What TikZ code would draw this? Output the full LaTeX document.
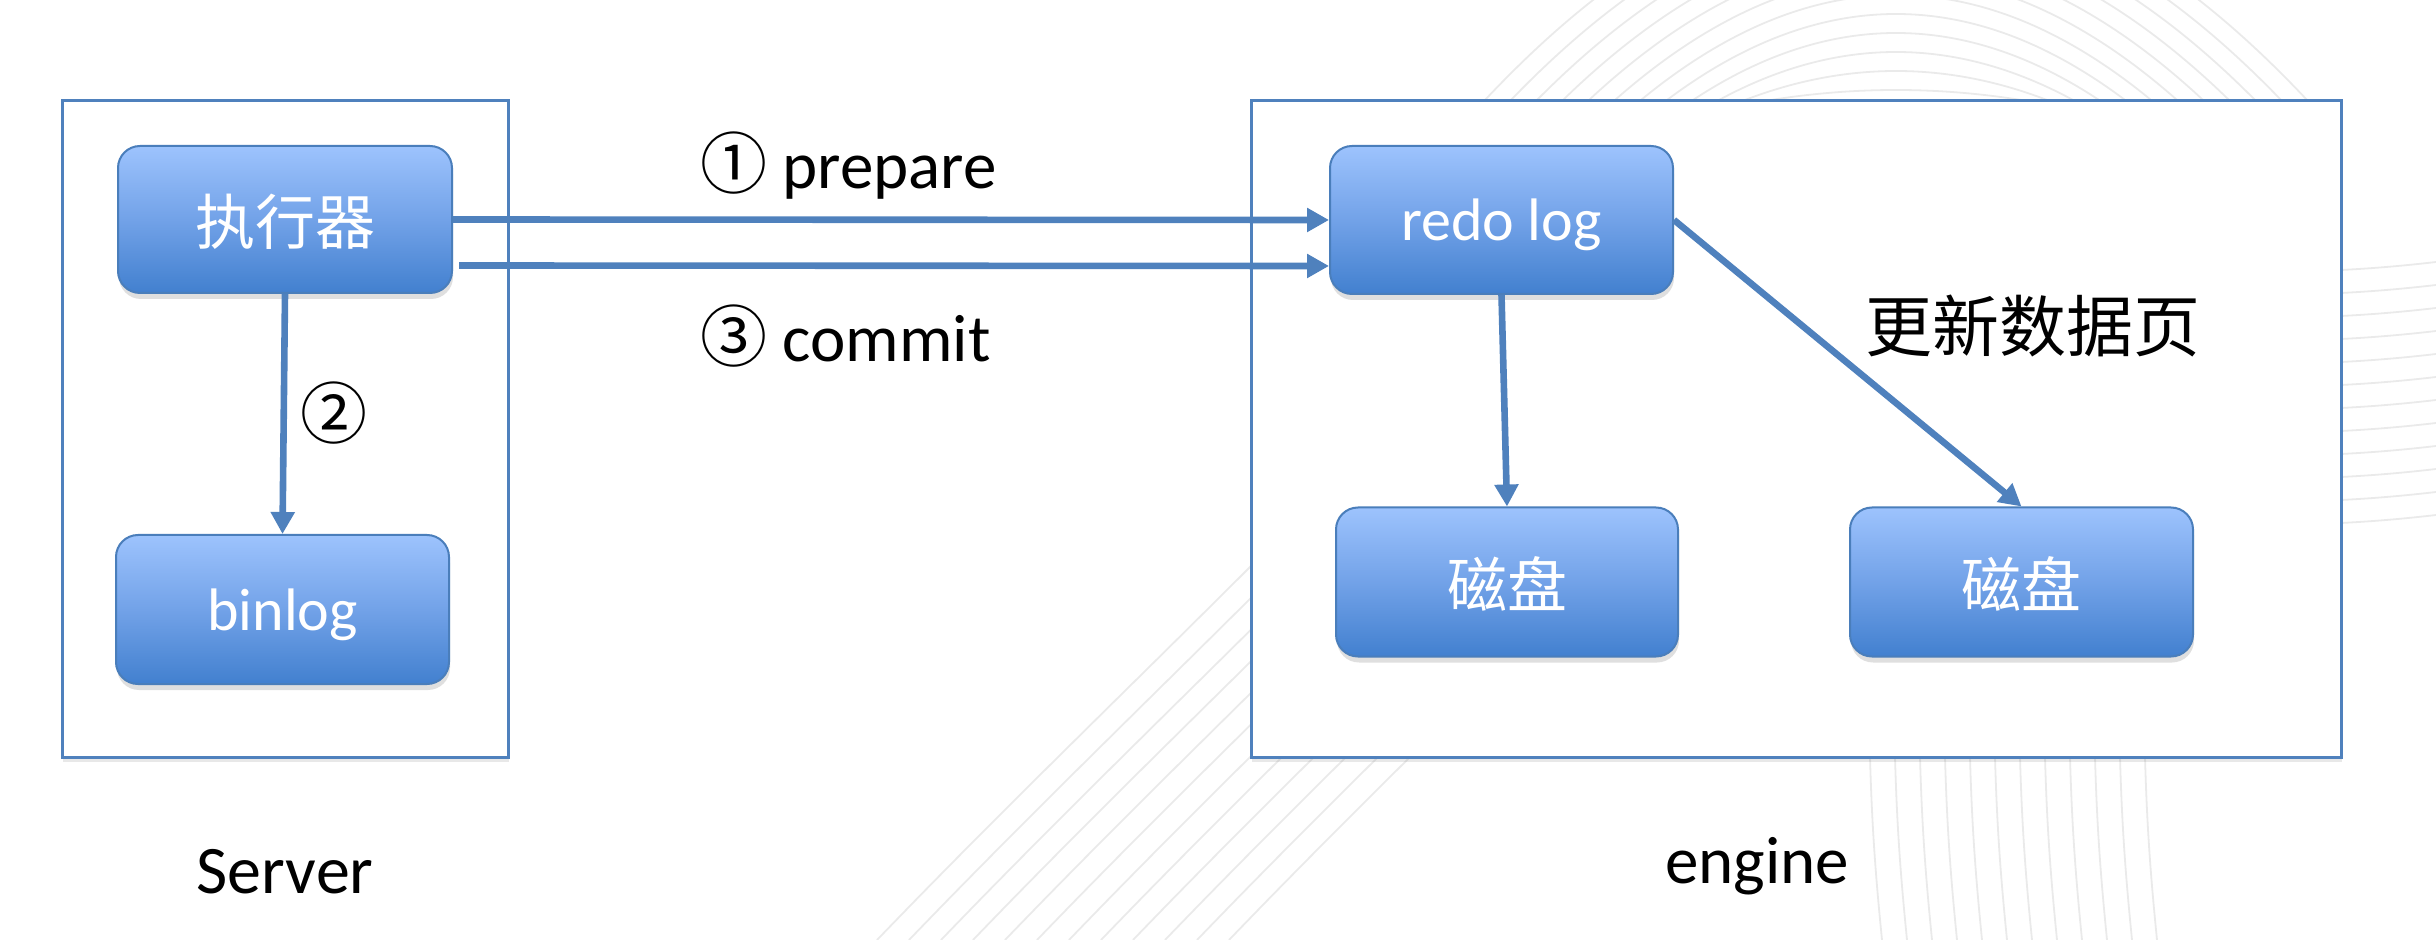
\documentclass[tikz,border=0pt]{standalone}
\usepackage{fontspec}
\setmainfont{Carlito}
\newfontfamily\cjk{Noto Sans CJK SC}
\usetikzlibrary{arrows.meta,shadows,calc}
\definecolor{boxblue}{RGB}{79,129,189}
\definecolor{arrblue}{RGB}{79,129,189}
\definecolor{ntop}{RGB}{157,195,253}
\definecolor{nmid}{RGB}{114,162,232}
\definecolor{nbot}{RGB}{66,128,207}
\definecolor{nbord}{RGB}{74,126,187}
\definecolor{wm}{RGB}{234,234,234}
\begin{document}
\begin{tikzpicture}[x=0.5pt,y=-0.5pt,
  container/.style={draw=boxblue,line width=1.5pt,fill=white,minimum width=#1,minimum height=328pt,inner sep=0pt,drop shadow={shadow xshift=0.5pt,shadow yshift=-2.5pt,opacity=0.18}},
  blk/.style={draw=nbord,line width=1pt,rounded corners=11pt,top color=ntop,bottom color=nbot,middle color=nmid,text=white,minimum width=#1,minimum height=74.5pt,inner sep=0pt,text depth=0pt,font=\fontsize{30}{36}\selectfont,drop shadow={shadow xshift=0.5pt,shadow yshift=-3pt,opacity=0.25}},
  flow/.style={draw=arrblue,line width=3.3pt,-{Triangle[length=11pt,width=11.5pt]}},
  lbl/.style={font=\fontsize{33.5}{40}\selectfont,text=black,inner sep=0pt},
  wmline/.style={draw=wm,line width=0.9pt}]
\useasboundingbox (0,0) rectangle (2436,940);
% faint background watermark
\begin{scope}
\clip (0,0) rectangle (2436,940);
\foreach \k in {0,...,11} {
  \pgfmathsetmacro\a{90-19*\k}
  \pgfmathsetmacro\w{125+26*\k}
  \pgfmathsetmacro\ww{1.03*\w}
  \draw[wmline] plot[domain=-\ww:\ww,samples=60,smooth] ({1896+\x},{\a+(100-\a)*(\x/\w)*(\x/\w)});
}
\foreach \i in {0,...,11} {
  \draw[wmline] ({2341},{270+23*\i}) .. controls ({2380},{268+23*\i}) and ({2410},{265+23*\i}) .. ({2436},{262+23*\i});
}
\foreach \i in {0,...,11} {
  \pgfmathsetmacro\xx{1870+25*\i}
  \draw[wmline] ({\xx},{757}) .. controls ({\xx+2},{830}) and ({\xx+6},{880}) .. ({\xx+12},{940});
}
\foreach \i in {0,...,11} {
  \pgfmathsetmacro\c{1817+32*\i}
  \draw[wmline] ({\c-940},{940}) .. controls ({\c-820},{815}) and ({\c-690},{690}) .. ({\c-560},{560});
}
\end{scope}
% containers
\node[container=223pt] (srv) at (285,429) {};
\node[container=545pt] (eng) at (1796,429) {};
% blocks
\node[blk=167pt,minimum height=73.5pt] (exe) at (285,219.5) {\cjk 执行器};
\node[blk=166.5pt] (bin) at (282.5,609.5) {binlog};
\node[blk=171.5pt,minimum height=74pt] (redo) at (1501.5,220) {redo log};
\node[blk=171pt] (d1) at (1507,582) {\cjk 磁盘};
\node[blk=171.5pt] (d2) at (2021.5,582) {\cjk 磁盘};
% connectors
\draw[flow] (exe.east) -- (redo.west);
\draw[flow] ([xshift=3pt,yshift=-23pt]exe.east) -- ([yshift=-23pt]redo.west);
\draw[flow] (exe.south) -- (bin.north);
\draw[flow] (redo.south) -- (d1.north);
\draw[flow] (redo.east) -- (d2.north);
% labels
\node[lbl,anchor=base west] (prep) at (700,189) {{\cjk ①} prepare};
\node[lbl,anchor=base west] (comm) at (700,362) {{\cjk ③} commit};
\node[lbl] (two) at (334,413) {\cjk ②};
\node[lbl,anchor=base,font=\fontsize{34}{40}\selectfont] (srvl) at (285,893) {Server};
\node[lbl,anchor=base] (engl) at (1757,883) {engine};
\node[lbl,font=\cjk\fontsize{33.5}{40}\selectfont] (upd) at (2033,326) {更新数据页};
\end{tikzpicture}
\end{document}
